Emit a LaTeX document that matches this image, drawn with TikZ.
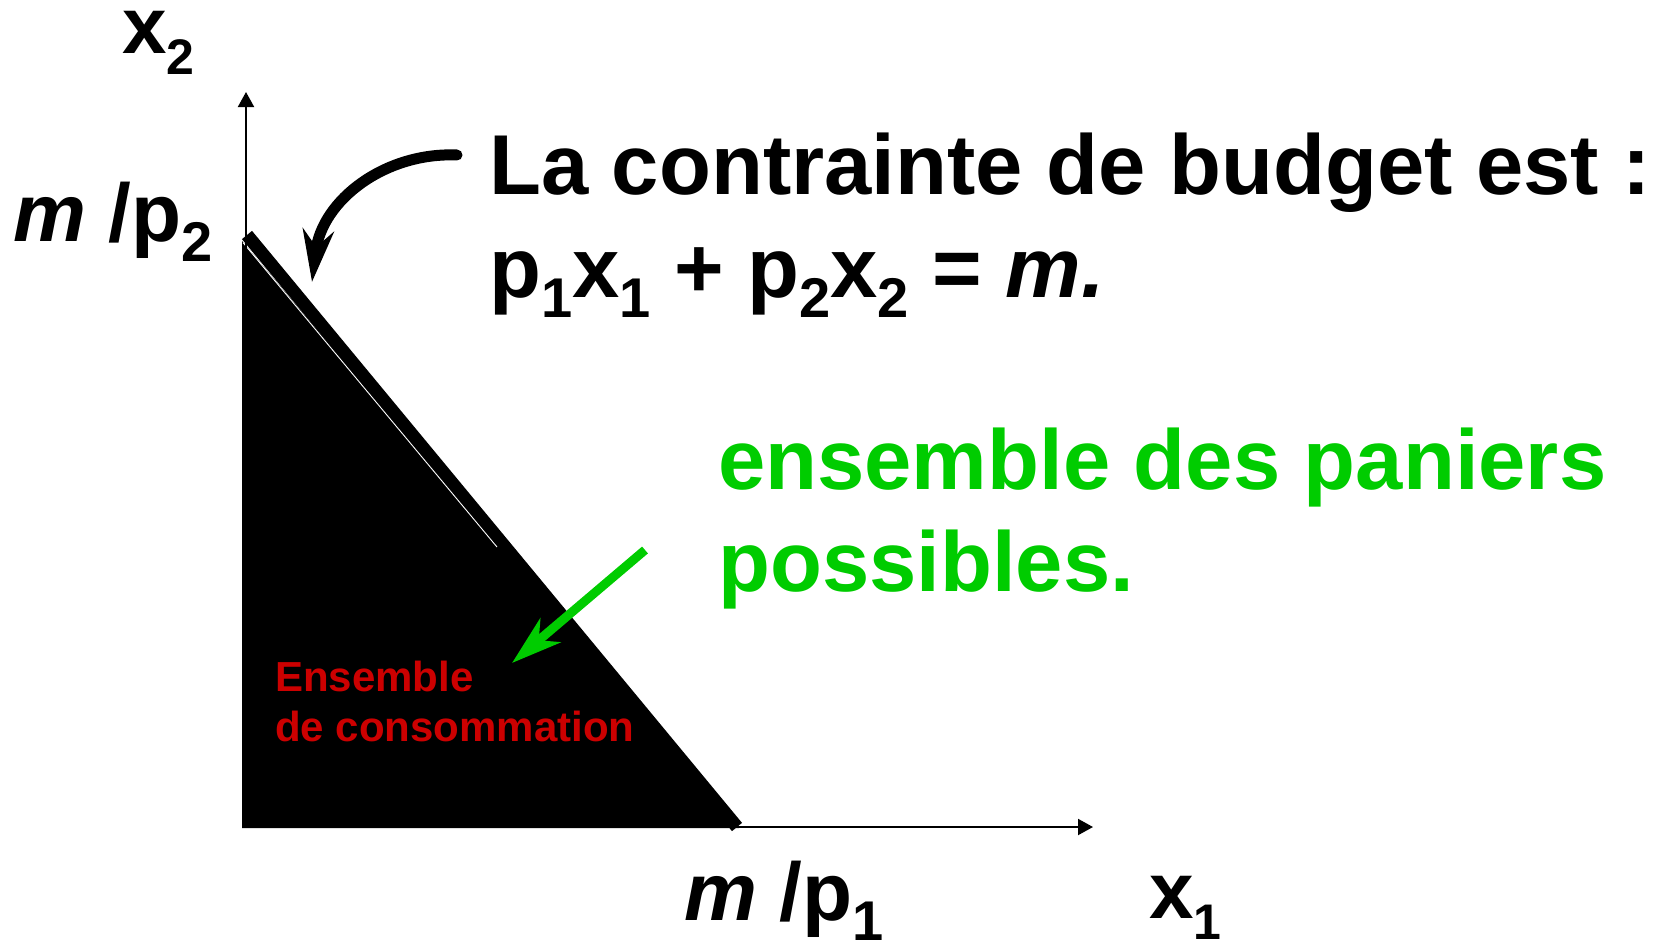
\documentclass[tikz,border=0pt]{standalone}
\usepackage{fontspec}
\setmainfont{Liberation Sans}
\usetikzlibrary{arrows.meta}
\definecolor{grn}{RGB}{0,204,0}
\definecolor{rd}{RGB}{204,0,0}
\newcommand{\bigf}{\fontsize{85}{100}\selectfont\bfseries}
\newcommand{\labf}{\fontsize{82}{96}\selectfont\bfseries}
\newcommand{\axf}{\fontsize{80}{96}\selectfont\bfseries}
\newcommand{\subd}[1]{\raisebox{-20pt}{\fontsize{56}{60}\selectfont\bfseries #1}}
\newcommand{\subs}[1]{\raisebox{-21pt}{\fontsize{50}{56}\selectfont\bfseries #1}}
\begin{document}
\begin{tikzpicture}[x=1pt,y=-1pt,
  txt/.style={inner sep=0pt, anchor=base west},
  axis/.style={line width=2pt, -{Triangle[length=15pt,width=16pt]}},
  callout/.style={line width=11pt, line cap=round, -{Stealth[length=52pt,width=31pt,inset=17pt]}},
  greenarrow/.style={grn, line width=9pt, -{Stealth[length=50pt,width=31pt,inset=15pt]}}]
\useasboundingbox (0,0) rectangle (1656,942);
% coordinates
\coordinate (O) at (246,827);
\coordinate (ytip) at (246,92);
\coordinate (xtip) at (1093,827);
\coordinate (A) at (247,235);
\coordinate (B) at (737,827);
% feasible set
\fill[black] (242,241) -- (242,828) -- (739,828) -- cycle;
\draw[line width=13pt] (A) -- (B);
\draw[white, line width=0.9pt] (243,242.6) -- (497,547);
% axes
\draw[axis] (O) -- (ytip);
\draw[axis] (O) -- (xtip);
% axis labels
\node[txt, font=\axf] (lx2) at (122,53) {x\subs{2}};
\node[txt, font=\axf] (lx1) at (1149,918) {x\subs{1}};
\node[txt, font=\labf] (lmp2) at (13,241) {\itshape m\upshape{} /p\subd{2}};
\node[txt, font=\labf] (lmp1) at (684,920) {\itshape m\upshape{} /p\subd{1}};
% budget constraint text
\node[txt, font=\bigf] (t1) at (489,194) {La contrainte de budget est :};
\node[txt, font=\bigf] (t2) at (489,297) {p\subd{1}x\subd{1} + p\subd{2}x\subd{2} = {\itshape m.}};
% green text
\node[txt, font=\bigf, text=grn] (g1) at (718,489) {ensemble des paniers};
\node[txt, font=\bigf, text=grn] (g2) at (718,591) {possibles.};
% red text
\node[txt, font=\fontsize{42}{50}\selectfont\bfseries, text=rd] (r1) at (275,691) {Ensemble};
\node[txt, font=\fontsize{42}{50}\selectfont\bfseries, text=rd] (r2) at (275,741) {de consommation};
% arrows
\coordinate (cs) at (457,155);
\coordinate (ce) at (312,282);
\draw[callout] (cs) .. controls (385,152) and (322,200) .. (ce);
\coordinate (gs) at (645,550);
\coordinate (ge) at (512,663);
\draw[greenarrow] (gs) -- (ge);
\end{tikzpicture}
\end{document}
